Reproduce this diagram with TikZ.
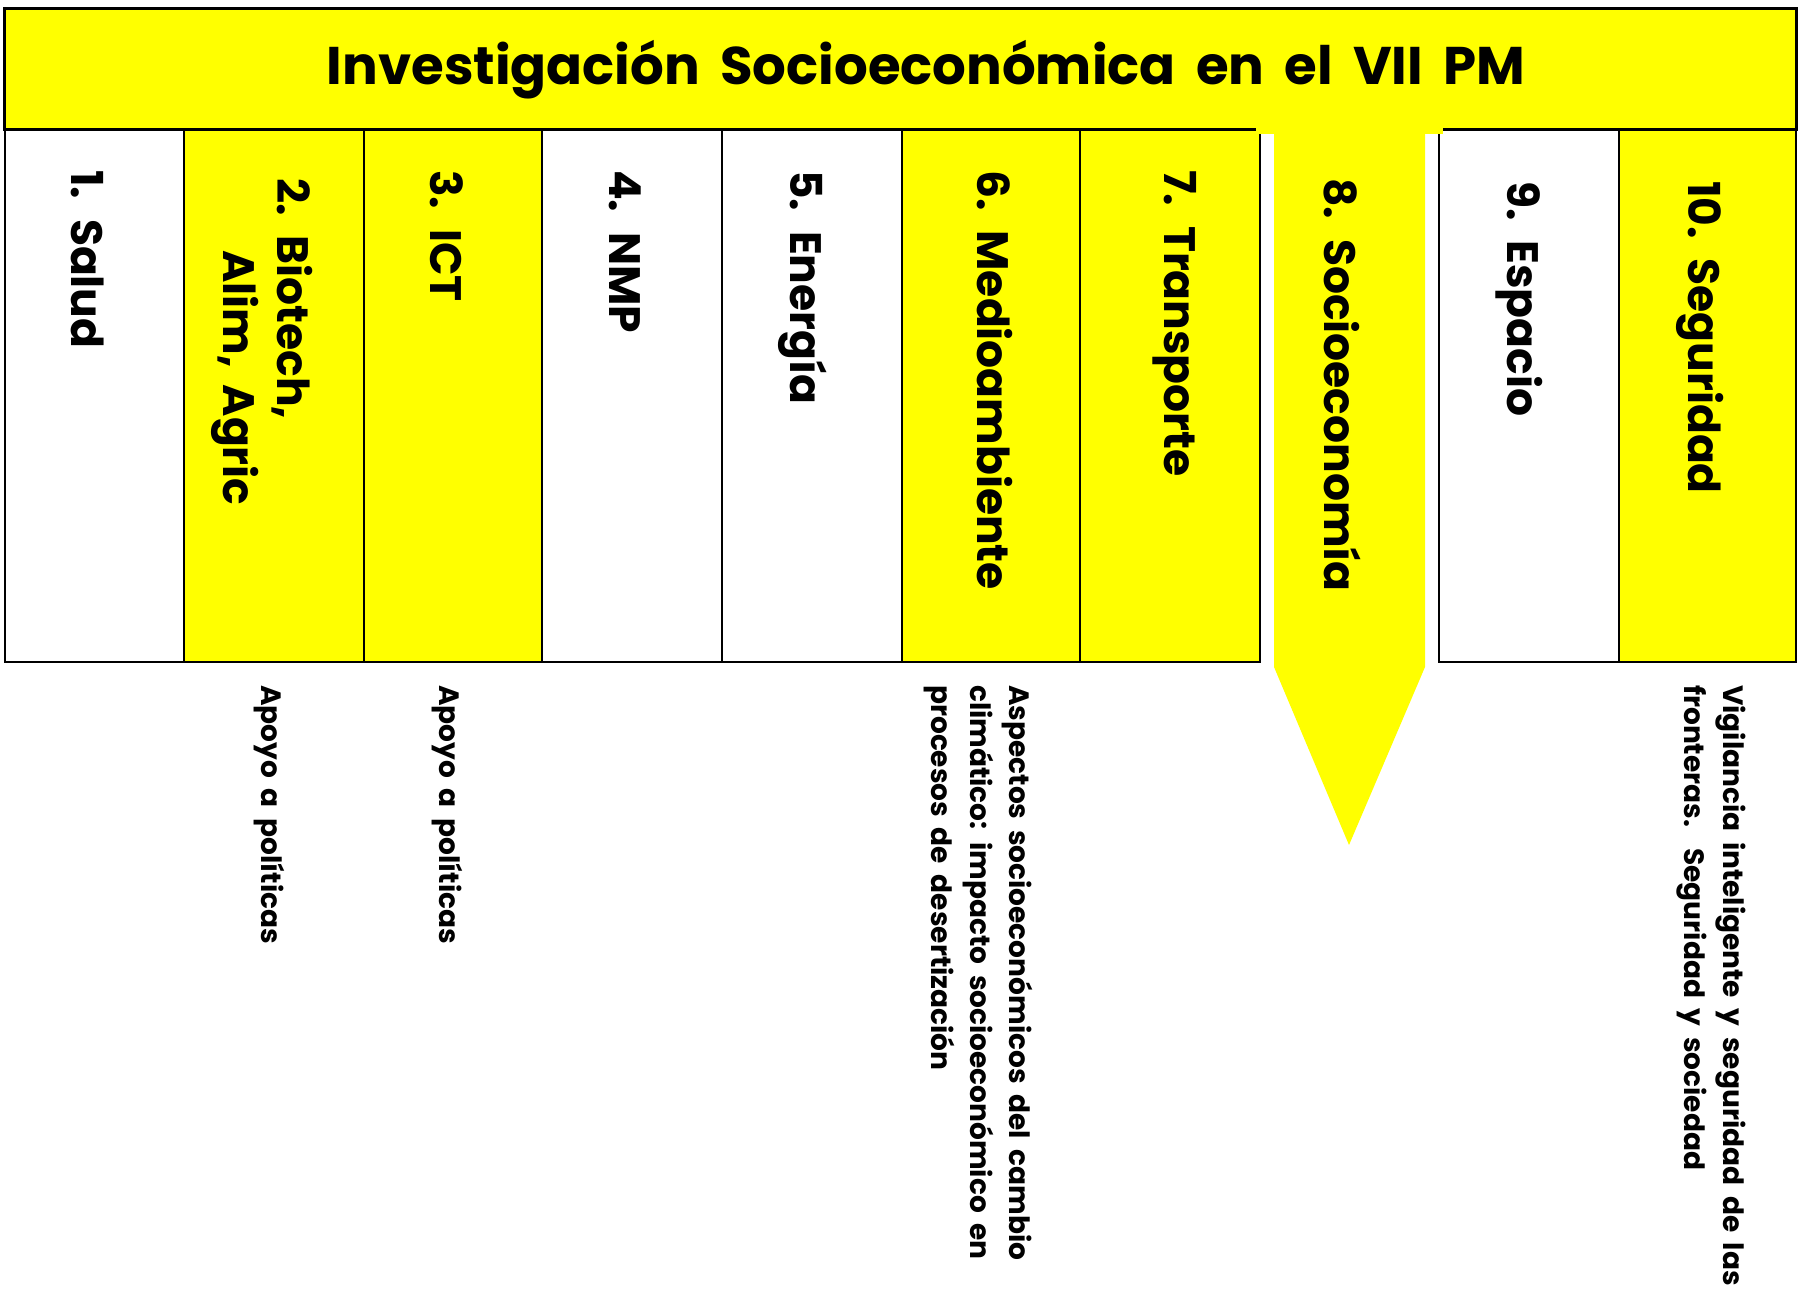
\documentclass[tikz,border=0pt]{standalone}
\usepackage{fontspec}
\setmainfont{Poppins}[WordSpace=1.8]
\definecolor{ylw}{RGB}{255,255,0}
\begin{document}
\begin{tikzpicture}[x=1pt,y=-1pt,
  col/.style={draw=black,line width=1.5pt},
  lbl/.style={rotate=-90,anchor=west,inner sep=0pt,font=\bfseries\fontsize{44}{50}\selectfont},
  note/.style={rotate=-90,anchor=west,inner sep=0pt,align=left,font=\bfseries\fontsize{28}{39}\selectfont}]
\useasboundingbox (0,0) rectangle (1798,1303);
% title box
\draw[fill=ylw,line width=3pt] (4,9) rectangle (1796,130);
% columns
\draw[col,fill=white] (5,130) rectangle (184,662);
\draw[col,fill=ylw] (184,130) rectangle (364,662);
\draw[col,fill=ylw] (364,130) rectangle (542,662);
\draw[col,fill=white] (542,130) rectangle (722,662);
\draw[col,fill=white] (722,130) rectangle (902,662);
\draw[col,fill=ylw] (902,130) rectangle (1080,662);
\draw[col,fill=ylw] (1080,130) rectangle (1260,662);
\draw[col,fill=white] (1439,130) rectangle (1619,662);
\draw[col,fill=ylw] (1619,130) rectangle (1796,662);
% arrow 8
\fill[ylw] (1256,126) rectangle (1443,134);
\fill[ylw] (1274,128) -- (1425,128) -- (1425,667) -- (1349,845) -- (1274,667) -- cycle;
% title text
\node[font=\bfseries\fontsize{53}{60}\selectfont] (title) at (926,70) {Investigación Socioeconómica en el VII PM};
% labels
\node[lbl] (c1) at (88,170) {1. Salud};
\node[lbl] (c2a) at (292,178) {2. Biotech,};
\node[lbl] (c2b) at (235,250) {Alim, Agric};
\node[lbl] (c3) at (447,170) {3. ICT};
\node[lbl] (c4) at (625,170) {4. NMP};
\node[lbl] (c5) at (803,170) {5. Energía};
\node[lbl] (c6) at (995,170) {6. Medioambiente};
\node[lbl] (c7) at (1175,170) {7. Transporte};
\node[lbl] (c8) at (1342,178) {8. Socioeconomía};
\node[lbl] (c9) at (1519,181) {9. Espacio};
\node[lbl] (c10) at (1700,181) {10. Seguridad};
% notes
\node[note] (n2) at (269,685) {Apoyo a políticas};
\node[note] (n3) at (447,685) {Apoyo a políticas};
\node[note] (n6) at (978,685) {Aspectos socioeconómicos del cambio\\climático: impacto socioeconómico en\\procesos de desertización};
\node[note] (n10) at (1711,685) {Vigilancia inteligente y seguridad de las\\fronteras.\ \ Seguridad y sociedad};
\end{tikzpicture}
\end{document}
